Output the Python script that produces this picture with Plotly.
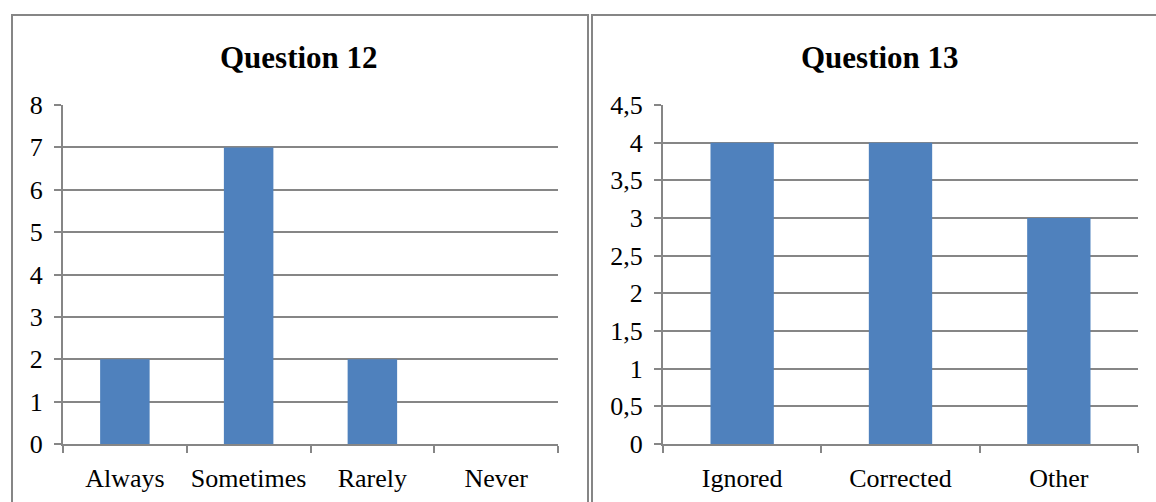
import plotly.graph_objects as go
from plotly.subplots import make_subplots

# Survey answers
q12_categories = ["Always", "Sometimes", "Rarely", "Never"]
q12_counts = [2, 7, 2, 0]

q13_categories = ["Ignored", "Corrected", "Other"]
q13_counts = [4, 4, 3]

q12_ticks = [0, 1, 2, 3, 4, 5, 6, 7, 8]
q13_ticks = [0, 0.5, 1, 1.5, 2, 2.5, 3, 3.5, 4, 4.5]

W, H = 1156, 502
BAR = "#4F81BD"
GRAY = "#868686"
FONT = "Liberation Serif, Times New Roman, serif"


def px_x(v):
    return v / W


def px_y(v):
    return 1 - v / H


fig = make_subplots(rows=1, cols=2)

fig.add_trace(go.Bar(x=q12_categories, y=q12_counts, marker_color=BAR,
                     marker_line_width=0, width=0.4), row=1, col=1)
fig.add_trace(go.Bar(x=q13_categories, y=q13_counts, marker_color=BAR,
                     marker_line_width=0, width=0.4), row=1, col=2)

ydom = [px_y(444), px_y(105)]

axis_common = dict(showline=True, linecolor=GRAY, linewidth=2,
                   ticks="outside", tickcolor=GRAY, tickwidth=2,
                   automargin=False,
                   tickfont=dict(family=FONT, size=26, color="black"))

fig.update_xaxes(domain=[px_x(63), px_x(558)], row=1, col=1)
fig.update_xaxes(domain=[px_x(663), px_x(1138)], row=1, col=2)
fig.update_xaxes(type="category", tickson="boundaries", ticklen=7,
                 tickangle=0, showgrid=False, ticklabelstandoff=10,
                 **axis_common)

fig.update_yaxes(domain=ydom, range=[0, 8], tickvals=q12_ticks, row=1, col=1)
fig.update_yaxes(domain=ydom, range=[0, 4.5], tickvals=q13_ticks, row=1, col=2)
fig.update_yaxes(showgrid=True, gridcolor=GRAY, gridwidth=2, ticklen=7,
                 zeroline=False, ticklabelstandoff=6, **axis_common)

# Chart frames
for x0, x1 in [(12, 588), (592, 1170)]:
    fig.add_shape(type="rect", xref="paper", yref="paper",
                  x0=px_x(x0), x1=px_x(x1), y0=px_y(520), y1=px_y(15),
                  line=dict(color=GRAY, width=2), fillcolor="rgba(0,0,0,0)")

for text, cx in [("Question 12", 299), ("Question 13", 880)]:
    fig.add_annotation(text=f"<b>{text}</b>", xref="paper", yref="paper",
                       x=px_x(cx), y=px_y(57), xanchor="center", yanchor="middle",
                       showarrow=False,
                       font=dict(family=FONT, size=31, color="black"))

fig.update_layout(width=W, height=H, margin=dict(l=0, r=0, t=0, b=0, pad=0),
                  paper_bgcolor="white", plot_bgcolor="white",
                  showlegend=False, separators=", ", bargap=0.6)

fig.write_html("out.html")
